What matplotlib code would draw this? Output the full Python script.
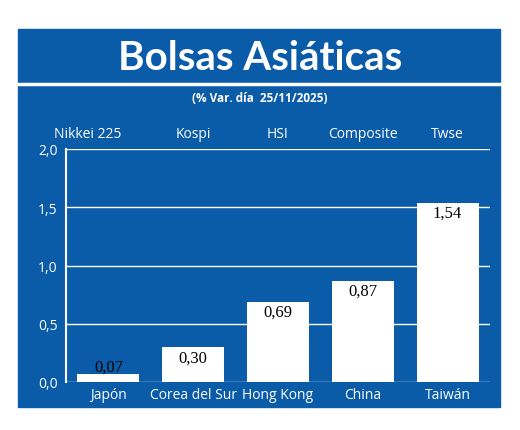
import matplotlib
matplotlib.use("Agg")
import matplotlib.pyplot as plt
from matplotlib.patches import Rectangle

paises = ["Japón", "Corea del Sur", "Hong Kong", "China", "Taiwán"]
indices = ["Nikkei 225", "Kospi", "HSI", "Composite", "Twse"]
valores = [0.07, 0.30, 0.69, 0.87, 1.54]
yticks = [0.0, 0.5, 1.0, 1.5, 2.0]

azul = "#0a5ca8"
plt.rcParams['font.family'] = ['Open Sans', 'DejaVu Sans']

fig = plt.figure(figsize=(5.2, 4.31), dpi=100)
fig.patches.append(Rectangle((18 / 520, 1 - 408 / 431), 482 / 520, 378 / 431,
                             transform=fig.transFigure, color=azul, zorder=-5))
fig.add_artist(plt.Line2D([18 / 520, 500 / 520], [1 - 85 / 431] * 2,
                          transform=fig.transFigure, color="white", lw=2.5))
fig.text(0.5, 1 - 58 / 431, "Bolsas Asiáticas", color="white", fontsize=29,
         fontweight="bold", ha="center", va="center", family=['Lato', 'DejaVu Sans'])
fig.text(0.5, 1 - 99 / 431, "(% Var. día  25/11/2025)", color="white", fontsize=8.5,
         fontweight="bold", ha="center", va="center")

ax = fig.add_axes([66 / 520, 1 - 383 / 431, 424 / 520, 233 / 431])
ax.set_facecolor("none")
ax.set_zorder(2)
x = range(len(paises))
ax.bar(x, valores, width=0.73, color="white", zorder=3)
for i, v in enumerate(valores):
    lab = f"{v:.2f}".replace(".", ",")
    if v < 0.2:
        ax.text(i, v - 0.01, lab, ha="center", va="bottom", fontsize=12,
                color="black", family="Liberation Serif", zorder=4)
    else:
        ax.text(i, v - 0.02, lab, ha="center", va="top", fontsize=12,
                color="black", family="Liberation Serif", zorder=4)
    ax.text(i, -0.04, paises[i], ha="center", va="top", fontsize=10,
            color="white", zorder=4)
    ax.text(i - 0.25 if i == 0 else i, 2.13, indices[i], ha="center", va="center",
            fontsize=10, color="white")
ax.set_xlim(-0.5, 4.5)
ax.set_ylim(0, 2.0)
ax.set_yticks(yticks)
ax.set_yticklabels([f"{t:.1f}".replace(".", ",") for t in yticks], color="white", fontsize=10)
ax.set_xticks([])
ax.tick_params(axis="y", length=0, pad=6)
ax.grid(axis="y", color="white", lw=1, zorder=1)
for s in ["top", "right", "bottom"]:
    ax.spines[s].set_visible(False)
ax.spines["left"].set_color("white")
ax.spines["left"].set_linewidth(1.5)

fig.savefig("out.png", dpi=100, facecolor="white")
